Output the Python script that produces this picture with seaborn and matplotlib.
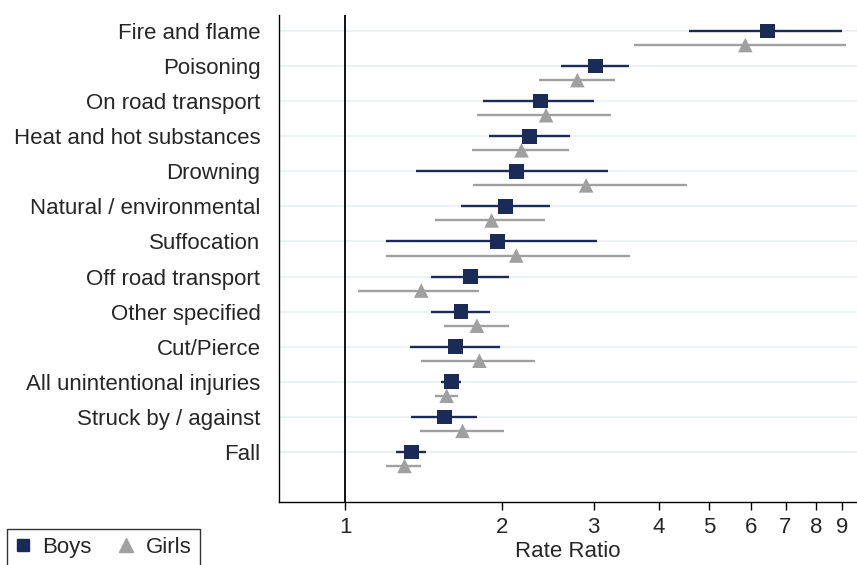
import numpy as np
import pandas as pd
import seaborn as sns
import matplotlib.pyplot as plt
from matplotlib.lines import Line2D

causes = ["Fire and flame", "Poisoning", "On road transport", "Heat and hot substances",
          "Drowning", "Natural / environmental", "Suffocation", "Off road transport",
          "Other specified", "Cut/Pierce", "All unintentional injuries",
          "Struck by / against", "Fall"]

boys_rr = [6.47, 3.02, 2.37, 2.26, 2.13, 2.03, 1.96, 1.74, 1.67, 1.63, 1.60, 1.55, 1.34]
boys_lo = [4.57, 2.60, 1.84, 1.89, 1.365, 1.67, 1.20, 1.46, 1.46, 1.33, 1.53, 1.34, 1.25]
boys_hi = [9.00, 3.50, 3.00, 2.70, 3.19, 2.47, 3.04, 2.06, 1.90, 1.98, 1.67, 1.79, 1.43]

girls_rr = [5.86, 2.79, 2.43, 2.18, 2.90, 1.91, 2.13, 1.40, 1.79, 1.81, 1.566, 1.68, 1.30]
girls_lo = [3.59, 2.35, 1.79, 1.75, 1.76, 1.49, 1.20, 1.06, 1.55, 1.40, 1.49, 1.39, 1.20]
girls_hi = [9.15, 3.30, 3.24, 2.69, 4.52, 2.42, 3.52, 1.81, 2.06, 2.31, 1.65, 2.02, 1.40]

boys_col = "#1a2b57"
girls_col = "#a0a0a0"

pos = np.arange(len(causes))
df = pd.DataFrame({
    "cause": causes * 2,
    "y": np.concatenate([pos, pos + 0.4]),
    "rr": boys_rr + girls_rr,
    "lo": boys_lo + girls_lo,
    "hi": boys_hi + girls_hi,
    "sex": ["Boys"] * len(causes) + ["Girls"] * len(causes),
})

sns.set_style("white")
plt.rcParams["font.family"] = ["Liberation Sans", "DejaVu Sans"]
fs = 16
fig, ax = plt.subplots(figsize=(8.57, 5.65), dpi=100)
fig.subplots_adjust(left=0.325, right=1.0, top=0.973, bottom=0.112)

for y in pos:
    ax.axhline(y, color="#eaf2f3", lw=1.5, zorder=0)
ax.axvline(1, color="black", lw=1.3, zorder=1)

colors = {"Boys": boys_col, "Girls": girls_col}
for sex, sub in df.groupby("sex"):
    ax.hlines(sub["y"], sub["lo"], sub["hi"], color=colors[sex], lw=1.7, zorder=2)

sns.scatterplot(data=df, x="rr", y="y", hue="sex", style="sex",
                palette=colors, markers={"Boys": "s", "Girls": "^"},
                s=110, edgecolor="none", legend=False, zorder=3, ax=ax)

ax.set_xscale("log")
ax.set_xlim(0.745, 9.6)
ax.set_ylim(13.42, -0.45)
ticks = [1, 2, 3, 4, 5, 6, 7, 8, 9]
ax.set_xticks(ticks)
ax.set_xticklabels([str(t) for t in ticks])
ax.xaxis.set_minor_locator(plt.NullLocator())
ax.set_yticks(pos)
ax.set_yticklabels(causes)
ax.tick_params(axis="y", length=0, pad=13, labelsize=fs)
ax.tick_params(axis="x", length=6, width=1, color="black", direction="out",
               bottom=True, pad=5, labelsize=fs)
ax.set_xlabel("Rate Ratio", fontsize=fs, labelpad=2)
ax.set_ylabel("")

for side in ["top", "right"]:
    ax.spines[side].set_visible(False)
for side in ["left", "bottom"]:
    ax.spines[side].set_color("black")
    ax.spines[side].set_linewidth(1)

handles = [Line2D([], [], marker="s", ls="none", color=boys_col, markersize=8.5, label="Boys"),
           Line2D([], [], marker="^", ls="none", color=girls_col, markersize=10, label="Girls")]
leg = fig.legend(handles=handles, loc="upper left", bbox_to_anchor=(7 / 857, 1 - 529 / 565),
                 ncol=2, frameon=True, fontsize=fs, handletextpad=0.55, columnspacing=1.2,
                 handlelength=0.7, borderpad=0.35, borderaxespad=0, fancybox=False)
leg.get_frame().set_edgecolor("black")
leg.get_frame().set_linewidth(1)

fig.savefig("out.png", dpi=100)
